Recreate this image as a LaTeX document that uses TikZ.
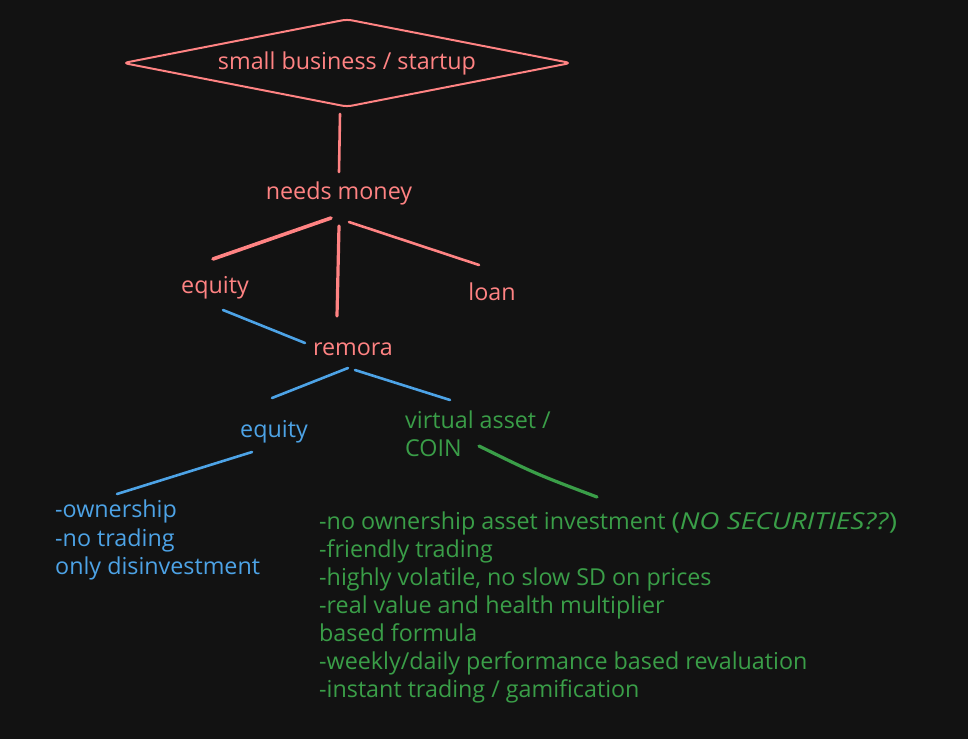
\documentclass[tikz,border=0pt]{standalone}
\usepackage{fontspec}
\usepackage{graphicx}
\setmainfont{Open Sans}
\usetikzlibrary{shapes.geometric}
\definecolor{bgc}{HTML}{121212}
\definecolor{rc}{HTML}{FF8383}
\definecolor{bc}{HTML}{4DA3E6}
\definecolor{gc}{HTML}{3A9E48}
\tikzset{
  txt/.style={inner sep=0pt, font=\fontsize{23.3}{28}\selectfont},
  rtxt/.style={txt, text=rc},
  btxt/.style={txt, text=bc},
  gtxt/.style={txt, text=gc, anchor=base west},
  rline/.style={draw=rc, line width=2.6pt, line cap=round},
  bline/.style={draw=bc, line width=2.6pt, line cap=round},
  gline/.style={draw=gc, line width=3.2pt, line cap=round},
}
\begin{document}
\begin{tikzpicture}[x=1pt,y=-1pt]
\fill[bgc] (0,0) rectangle (968,739);
\useasboundingbox (0,0) rectangle (968,739);

% top diamond
\node[diamond, shape aspect=5.09, minimum width=448pt, minimum height=88pt,
      inner sep=0pt, draw=rc, line width=2pt, rounded corners=5pt,
      text=rc, font=\fontsize{23.3}{28}\selectfont] (top) at (347,63) {small business / startup};

% red nodes
\node[rtxt, anchor=base] (needs) at (339,199) {needs money};
\node[rtxt, anchor=base] (eqr) at (215,293) {equity};
\node[rtxt, anchor=base] (loan) at (492,300) {loan};
\node[rtxt, anchor=base] (remora) at (353,355) {remora};

% blue / green labels
\node[btxt, anchor=base] (eqb) at (274,437) {equity};
\node[gtxt] (va1) at (405,428) {virtual asset /};
\node[gtxt] (va2) at (405,456) {COIN};

% blue list
\node[btxt, anchor=base west] (b1) at (55,517) {-ownership};
\node[btxt, anchor=base west] (b2) at (55,546) {-no trading};
\node[btxt, anchor=base west] (b3) at (55,574) {only disinvestment};

% green list
\node[gtxt] (g1) at (319,529) {-no ownership asset investment \scalebox{1.2}[1]{(\textit{NO SECURITIES??})}};
\node[gtxt] (g2) at (319,557) {-friendly trading};
\node[gtxt] (g3) at (319,585) {-highly volatile, no slow SD on prices};
\node[gtxt] (g4) at (319,613) {-real value and health multiplier};
\node[gtxt] (g5) at (319,641) {based formula};
\node[gtxt] (g6) at (319,669) {-weekly/daily performance based revaluation};
\node[gtxt] (g7) at (319,697) {-instant trading / gamification};

% connector end points
\coordinate (l1a) at (340,114);  \coordinate (l1b) at (339,172);
\coordinate (l2a) at (331,218);  \coordinate (l2b) at (213,259);
\coordinate (l3a) at (339,226);  \coordinate (l3b) at (337,316);
\coordinate (l4a) at (349,222);  \coordinate (l4b) at (479,265);
\coordinate (b1a) at (223,310);  \coordinate (b1b) at (305,343);
\coordinate (b2a) at (348,368);  \coordinate (b2b) at (272,398);
\coordinate (b3a) at (355,370);  \coordinate (b3b) at (450,400);
\coordinate (b4a) at (252,452);  \coordinate (b4b) at (117,494);
\coordinate (g1a) at (479,446);  \coordinate (g1m) at (536,474);  \coordinate (g1b) at (597,497);

% red connectors
\draw[rline] (l1a) -- (l1b);
\draw[rline, line width=3.6pt] (l2a) -- (l2b);
\draw[rline, line width=3.2pt] (l3a) -- (l3b);
\draw[rline] (l4a) -- (l4b);
% blue connectors
\draw[bline] (b1a) -- (b1b);
\draw[bline] (b2a) -- (b2b);
\draw[bline] (b3a) -- (b3b);
\draw[bline] (b4a) -- (b4b);
% green connector
\draw[gline] (g1a) .. controls (g1m) .. (g1b);
\end{tikzpicture}
\end{document}
